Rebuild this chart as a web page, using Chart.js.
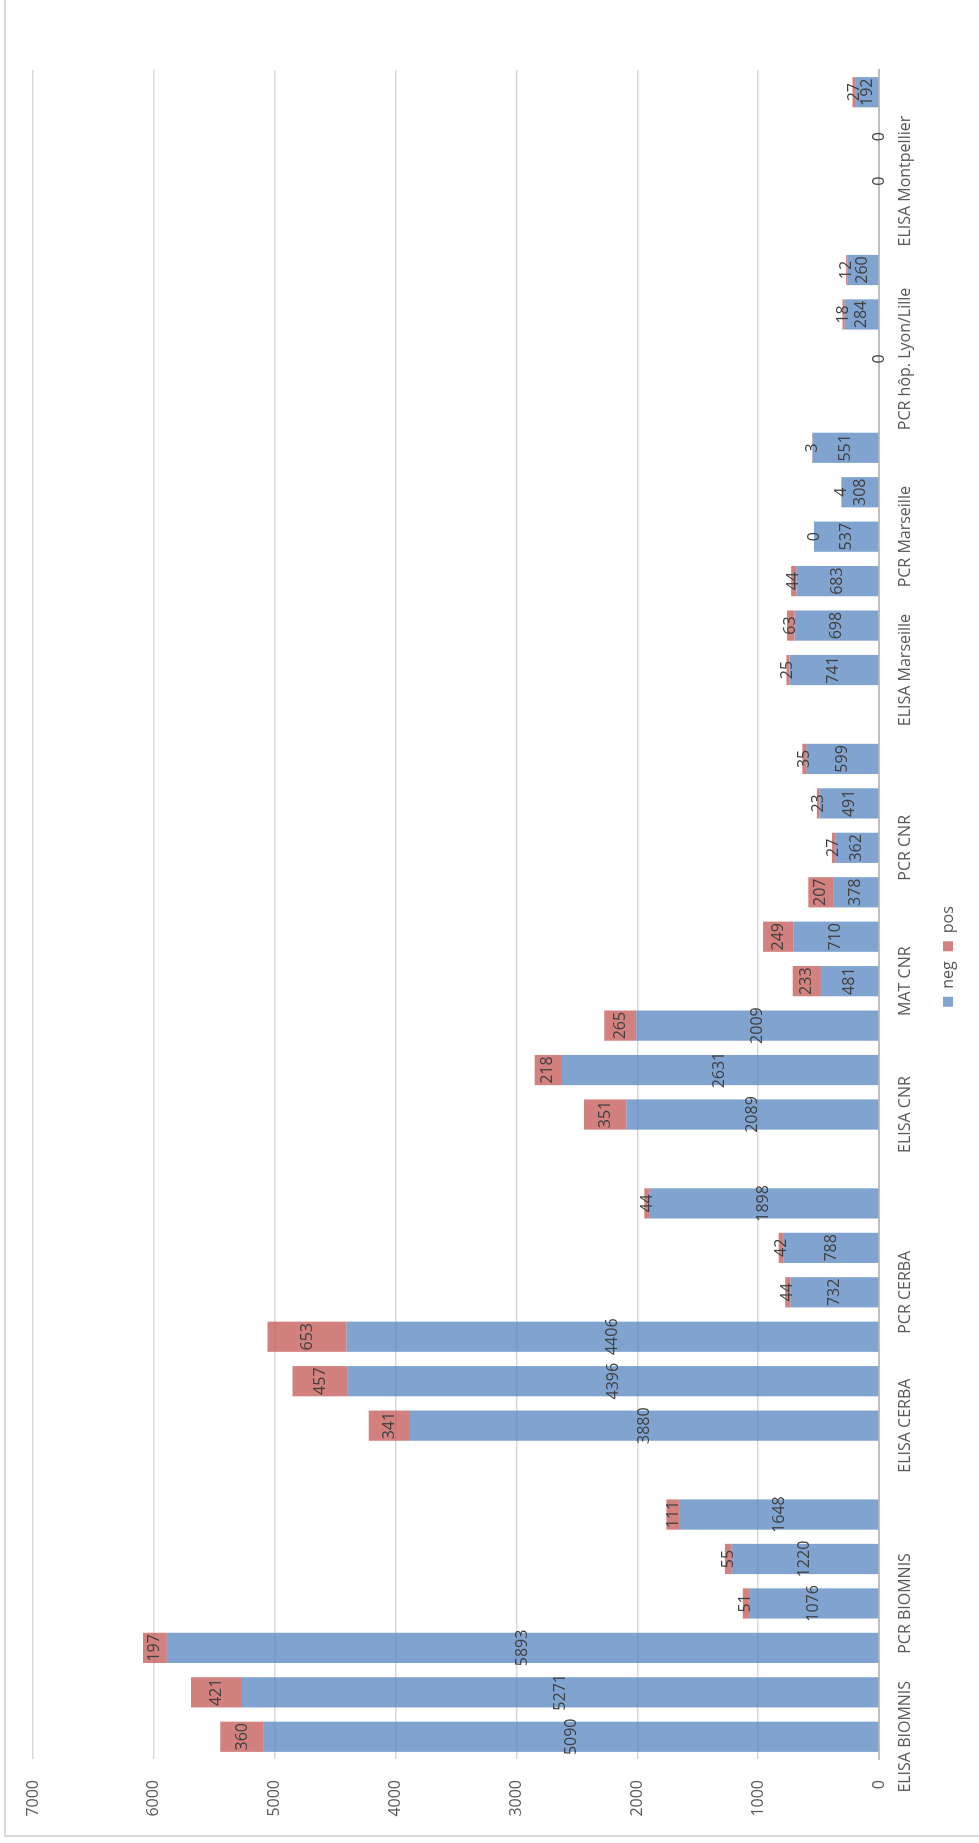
<!DOCTYPE html>
<html>
<head>
<meta charset="utf-8">
<title>neg / pos</title>
<script src="https://cdn.jsdelivr.net/npm/chart.js@4.4.1/dist/chart.umd.min.js"></script>
<style>
  html, body { margin: 0; padding: 0; background: #fff; overflow: hidden; }
  body { width: 979px; height: 1843px; position: relative; }
  /* the chart is drawn landscape, then turned a quarter left onto the page */
  #frame {
    position: absolute; left: 0; top: 1843px;
    width: 1843px; height: 979px;
    transform-origin: 0 0; transform: rotate(-90deg);
  }
  #edge {
    position: absolute; left: 6px; top: 4px; right: -10px; bottom: -10px;
    border-left: 2px solid #d9d9d9; border-top: 2px solid #d9d9d9;
  }
  #chart { position: absolute; left: 0; top: 0; }
</style>
</head>
<body>
<div id="frame">
  <div id="edge"></div>
  <canvas id="chart" width="1843" height="979"></canvas>
</div>
<script>
// one slot per bar, group name on the first bar of each group, '' for gaps
const categories = [
  'ELISA BIOMNIS', '', '', 'PCR BIOMNIS', '', '', '',
  'ELISA CERBA', '', '', 'PCR CERBA', '', '', '',
  'ELISA CNR', '', '', 'MAT CNR', '', '', 'PCR CNR', '', '', '',
  'ELISA Marseille', '', '', 'PCR Marseille', '', '', '',
  'PCR hôp. Lyon/Lille', '', '', '',
  'ELISA Montpellier', '', '',
];

const negValues = [
  5090, 5271, 5893, 1076, 1220, 1648, null,
  3880, 4396, 4406, 732, 788, 1898, null,
  2089, 2631, 2009, 481, 710, 378, 362, 491, 599, null,
  741, 698, 683, 537, 308, 551, null,
  0, 284, 260, null,
  0, 0, 192,
];

const posValues = [
  360, 421, 197, 51, 55, 111, null,
  341, 457, 653, 44, 42, 44, null,
  351, 218, 265, 233, 249, 207, 27, 23, 35, null,
  25, 63, 44, 0, 4, 3, null,
  null, 18, 12, null,
  null, null, 27,
];

const valueTicks = [0, 1000, 2000, 3000, 4000, 5000, 6000, 7000];

((document, Chart) => {
  const textColor = '#595959';
  const gridColor = '#d9d9d9';
  const axisColor = '#bfbfbf';

  // Excel-like labels in the middle of every segment
  const segmentLabels = {
    id: 'segmentLabels',
    afterDatasetsDraw(chart) {
      const { ctx } = chart;
      ctx.save();
      ctx.font = '16px "Open Sans"';
      ctx.fillStyle = '#404040';
      ctx.textAlign = 'center';
      ctx.textBaseline = 'middle';
      chart.data.datasets.forEach((dataset, i) => {
        chart.getDatasetMeta(i).data.forEach((bar, j) => {
          const value = dataset.data[j];
          if (value === null || value === undefined) return;
          ctx.fillText(String(value), bar.x, (bar.y + bar.base) / 2);
        });
      });
      ctx.restore();
    },
  };

  const initChart = () => {
    Chart.defaults.font.family = '"Open Sans", sans-serif';
    Chart.defaults.font.size = 16;
    Chart.defaults.color = textColor;

    new Chart(document.getElementById('chart'), {
      type: 'bar',
      data: {
        labels: categories,
        datasets: [
          {
            label: 'neg',
            data: negValues,
            backgroundColor: 'rgba(79, 129, 189, 0.72)',
            borderWidth: 0,
          },
          {
            label: 'pos',
            data: posValues,
            backgroundColor: 'rgba(192, 80, 77, 0.72)',
            borderWidth: 0,
          },
        ],
      },
      options: {
        responsive: false,
        animation: false,
        devicePixelRatio: 1,
        layout: { padding: { left: 0, top: 33, right: 70, bottom: 13 } },
        datasets: {
          bar: { categoryPercentage: 1, barPercentage: 0.68 },
        },
        plugins: {
          legend: {
            position: 'bottom',
            labels: { boxWidth: 10, boxHeight: 10, padding: 10, color: textColor },
          },
          tooltip: { enabled: false },
        },
        scales: {
          x: {
            stacked: true,
            grid: { display: false, drawTicks: false },
            border: { color: axisColor, width: 2 },
            ticks: { autoSkip: false, maxRotation: 0, minRotation: 0, padding: 17 },
            afterFit: (scale) => { scale.height = 51; },
          },
          y: {
            stacked: true,
            min: 0,
            max: 7000,
            afterBuildTicks: (scale) => {
              scale.ticks = valueTicks.map((value) => ({ value }));
            },
            grid: {
              drawTicks: false,
              lineWidth: 1.5,
              color: (ctx) => (ctx.tick && ctx.tick.value === 0 ? axisColor : gridColor),
            },
            border: { display: false },
            ticks: { padding: 21, callback: (value) => String(value) },
            afterFit: (scale) => { scale.width = 84; },
          },
        },
      },
      plugins: [segmentLabels],
    });
  };

  initChart();
})(document, Chart);
</script>
</body>
</html>
